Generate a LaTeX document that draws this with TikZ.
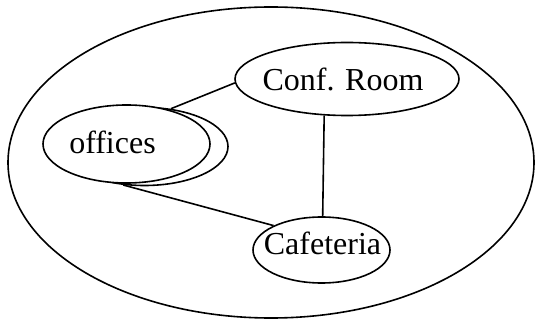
\documentclass[tikz,border=0pt]{standalone}
\usepackage{fontspec}
\setmainfont{Liberation Serif}
\usetikzlibrary{shapes.geometric}
\begin{document}
\begin{tikzpicture}[x=0.75pt,y=-0.75pt,
  line width=1.2pt,
  area/.style={ellipse,draw=black,fill=white,inner sep=0pt},
  lbl/.style={inner sep=0pt,anchor=base,font=\fontsize{24}{28}\selectfont},
  link/.style={draw=black,line width=1.2pt}]
  \useasboundingbox (0,0) rectangle (535,320);

  % building outline
  \node[area,minimum width=394.5pt,minimum height=233.25pt] (site) at (271,162.5) {};

  % offices: stacked ellipse (back copy, then front)
  \node[area,minimum width=125.25pt,minimum height=58.5pt] (offb) at (144.5,146.5) {};
  \node[area,minimum width=125.25pt,minimum height=58.5pt] (off) at (126.5,144) {};
  \node[lbl] (offt) at (112.5,154) {offices};

  % conference room
  \node[area,minimum width=168pt,minimum height=54.75pt] (conf) at (347,79) {};
  \node[lbl] (conft) at (343,90.5) {Conf. Room};

  % cafeteria
  \node[area,minimum width=102.75pt,minimum height=49.5pt] (caf) at (321.5,250) {};
  \node[lbl] (caft) at (322.5,255) {Cafeteria};

  % connections
  \draw[link] (offb.55) -- (conf.182);
  \draw[link] (conf.238) -- (caf.88);
  \draw[link] (offb.241) -- (caf.153);
\end{tikzpicture}
\end{document}
